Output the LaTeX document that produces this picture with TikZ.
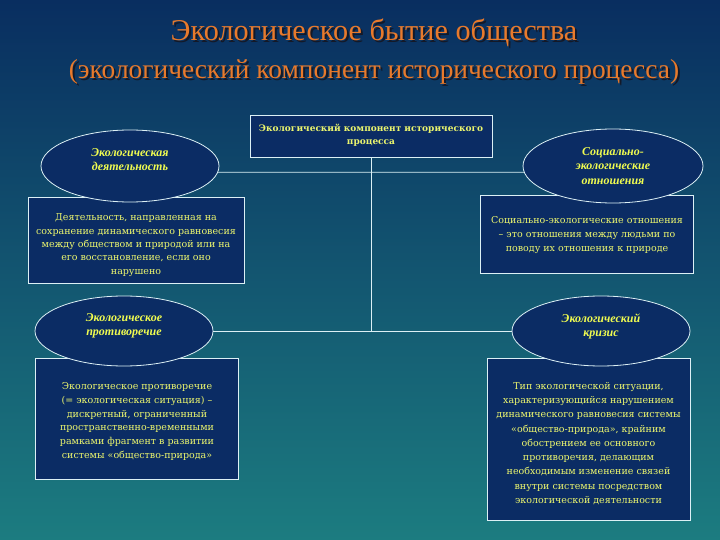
\documentclass[tikz,border=0pt]{standalone}
\usepackage{fontspec}
\setmainfont{Liberation Serif}
\newfontfamily\boxfont{DejaVu Serif}
\usetikzlibrary{shapes.geometric}
\definecolor{bgtop}{RGB}{9,46,96}
\definecolor{bgbot}{RGB}{28,124,128}
\definecolor{boxfill}{RGB}{11,44,100}
\definecolor{txtyellow}{RGB}{236,246,110}
\definecolor{ovaltxt}{RGB}{240,252,80}
\definecolor{titleorange}{RGB}{232,122,44}
\definecolor{titleshadow}{RGB}{20,25,40}
\definecolor{lineclr}{RGB}{220,240,245}
\begin{document}
\begin{tikzpicture}[x=1pt,y=-1pt,
  frame/.style={draw=lineclr, line width=0.8pt},
  rbox/.style={frame, fill=boxfill, rectangle, inner sep=0pt},
  btxt/.style={inner sep=0pt, align=center, text=txtyellow,
    font=\boxfont\fontsize{9.5}{14.3}\selectfont},
  oval/.style={frame, fill=boxfill, ellipse, inner sep=0pt, align=center, text=ovaltxt,
    font=\bfseries\itshape\fontsize{12}{14}\selectfont},
  conn/.style={draw=lineclr, line width=0.8pt}]
\useasboundingbox (0,0) rectangle (720,540);
\shade[top color=bgtop, bottom color=bgbot] (0,0) rectangle (720,540);

% title
\node[font=\fontsize{30.2}{34}\selectfont, text=titleshadow] (t1s) at (376,35) {Экологическое бытие общества};
\node[font=\fontsize{30.2}{34}\selectfont, text=titleorange] (t1) at (374,33) {Экологическое бытие общества};
\node[font=\fontsize{27.4}{32}\selectfont, text=titleshadow] (t2s) at (376,74) {(экологический компонент исторического процесса)};
\node[font=\fontsize{27.4}{32}\selectfont, text=titleorange] (t2) at (374,72) {(экологический компонент исторического процесса)};

% boxes
\node[rbox, minimum width=242pt, minimum height=42pt] (top) at (371,136) {};
\node[btxt, font=\boxfont\bfseries\fontsize{9}{13}\selectfont] (topt) at (371,135.5)
  {Экологический компонент исторического\\процесса};
\node[rbox, minimum width=216pt, minimum height=86pt] (bl1) at (136,240) {};
\node[btxt, font=\boxfont\fontsize{9.5}{13.3}\selectfont] (bl1t) at (136,245)
  {Деятельность, направленная на\\сохранение динамического равновесия\\между обществом и природой или на\\его восстановление, если оно\\нарушено};
\node[rbox, minimum width=213pt, minimum height=78pt] (br1) at (586.5,234.5) {};
\node[btxt] (br1t) at (587,235)
  {Социально-экологические отношения\\– это отношения между людьми по\\поводу их отношения к природе};
\node[rbox, minimum width=203pt, minimum height=121pt] (bl2) at (137,418.5) {};
\node[btxt, font=\boxfont\fontsize{9.5}{13.8}\selectfont] (bl2t) at (137,421.5)
  {Экологическое противоречие\\(= экологическая ситуация) –\\дискретный, ограниченный\\пространственно-временными\\рамками фрагмент в развитии\\системы «общество-природа»};
\node[rbox, minimum width=203pt, minimum height=162pt] (br2) at (588.5,439) {};
\node[btxt] (br2t) at (588.5,443.5)
  {Тип экологической ситуации,\\характеризующийся нарушением\\динамического равновесия системы\\«общество-природа», крайним\\обострением ее основного\\противоречия, делающим\\необходимым изменение связей\\внутри системы посредством\\экологической деятельности};

% ellipses
\node[oval, minimum width=178pt, minimum height=72pt] (el1) at (130,166)
  {Экологическая\\деятельность\\[-2pt]};
\node[oval, minimum width=180pt, minimum height=74pt, font=\bfseries\itshape\fontsize{12}{14.5}\selectfont] (er1) at (613,166)
  {Социально-\\экологические\\отношения};
\node[oval, minimum width=178pt, minimum height=70pt] (el2) at (124,331)
  {Экологическое\\противоречие\\[-2pt]};
\node[oval, minimum width=178pt, minimum height=70pt] (er2) at (601,331)
  {Экологический\\кризис\\[-2pt]};

% connectors
\coordinate (j2) at (371,331);
\draw[conn] (el1.-4) -- (er1.184);
\draw[conn] (top.south) -- (j2);
\draw[conn] (el2.east) -- (er2.west);
\end{tikzpicture}
\end{document}
